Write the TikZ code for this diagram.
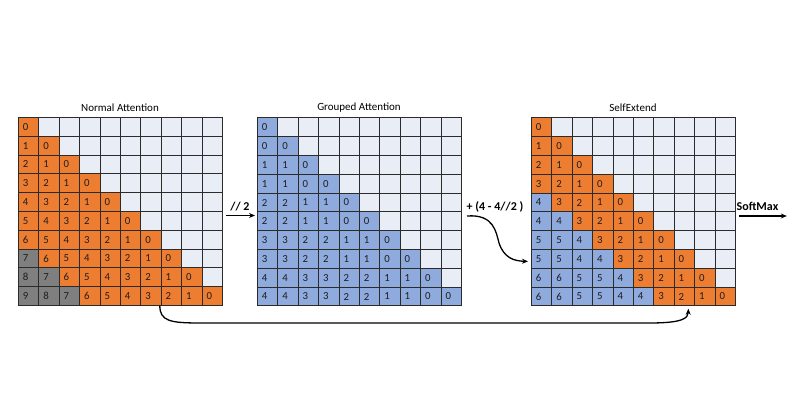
\documentclass[tikz,border=0pt]{standalone}
\usepackage{fontspec}
\setmainfont{Carlito}
\usetikzlibrary{arrows.meta}
\definecolor{orng}{HTML}{ED7D31}
\definecolor{blu}{HTML}{8FAADC}
\definecolor{emp}{HTML}{E9EDF6}
\definecolor{gry}{HTML}{7F7F7F}
\definecolor{gridc}{HTML}{2B2B2B}
\definecolor{txt}{HTML}{1E1E1E}
\tikzset{
  cell/.style={draw=gridc, line width=0.8pt, minimum height=18.8pt, text width=11.4pt,
    inner xsep=4.5pt, inner ysep=0pt, align=left, anchor=north west,
    font=\fontsize{10.8}{11}\selectfont, text=txt},
  ttl/.style={font=\fontsize{11}{12}\selectfont, text=black, inner sep=0pt},
  lab/.style={font=\bfseries\fontsize{12}{14}\selectfont, text=black, inner sep=0pt},
  arr/.style={line width=1.3pt, -{Stealth[length=6pt,width=5pt]}, draw=black},
}
\begin{document}
\begin{tikzpicture}[x=1pt,y=-1pt]
\useasboundingbox (0,0) rectangle (800,419);
\fill[white] (0,0) rectangle (800,419);
% Normal Attention
\foreach \i in {0,...,9}{
  \foreach \j in {0,...,9}{
    \pgfmathtruncatemacro\d{\i-\j}
    \ifnum\j>\i
      \node[cell,fill=emp] (N-\i-\j) at ({18+\j*20.4},{117+\i*18.8}) {};
    \else\ifnum\d>6
      \node[cell,fill=gry] (N-\i-\j) at ({18+\j*20.4},{117+\i*18.8}) {\d};
    \else
      \node[cell,fill=orng] (N-\i-\j) at ({18+\j*20.4},{117+\i*18.8}) {\d};
    \fi\fi
  }
}
% Grouped Attention
\foreach \i in {0,...,9}{
  \foreach \j in {0,...,9}{
    \pgfmathtruncatemacro\g{floor(\i/2)-floor(\j/2)}
    \ifnum\j>\i
      \node[cell,fill=emp] (G-\i-\j) at ({257+\j*20.4},{117.5+\i*18.8}) {};
    \else
      \node[cell,fill=blu] (G-\i-\j) at ({257+\j*20.4},{117.5+\i*18.8}) {\g};
    \fi
  }
}
% SelfExtend
\foreach \i in {0,...,9}{
  \foreach \j in {0,...,9}{
    \pgfmathtruncatemacro\d{\i-\j}
    \pgfmathtruncatemacro\g{floor(\i/2)-floor(\j/2)+2}
    \ifnum\j>\i
      \node[cell,fill=emp] (S-\i-\j) at ({531+\j*20.4},{117.5+\i*18.8}) {};
    \else\ifnum\d>3
      \node[cell,fill=blu] (S-\i-\j) at ({531+\j*20.4},{117.5+\i*18.8}) {\g};
    \else
      \node[cell,fill=orng] (S-\i-\j) at ({531+\j*20.4},{117.5+\i*18.8}) {\d};
    \fi\fi
  }
}
% titles
\node[ttl] (tN) at (120,108) {Normal Attention};
\node[ttl] (tG) at (359,108) {Grouped Attention};
\node[ttl] (tS) at (633,108) {SelfExtend};
% labels
\node[lab] (l2) at (240,206.5) {// 2};
\node[lab] (lp) at (495,206.5) {+ (4 - 4//2 )};
\node[lab] (lsm) at (757.5,206.5) {SoftMax};
% arrows
\coordinate (a1) at ([xshift=3pt,yshift=-4.5pt]N-5-9.north east);
\coordinate (a1e) at ([xshift=-2pt,yshift=-4pt]G-5-0.north west);
\draw[arr] (a1) -- (a1e);
\coordinate (a2) at (467,216);
\coordinate (a2e) at ([xshift=-3pt,yshift=-2.5pt]S-7-0.west);
\draw[arr] (a2) .. controls (494,214) and (496,232) .. (499,243)
  .. controls (504,258) and (514,261) .. (a2e);
\coordinate (a3) at ([xshift=3pt,yshift=-4.5pt]S-5-9.north east);
\coordinate (a3e) at ([xshift=48pt]a3);
\draw[arr] (a3) -- (a3e);
\coordinate (b1) at ([xshift=-1pt]N-9-7.south west);
\coordinate (b1e) at ([xshift=4pt,yshift=-2.5pt]S-9-7.south);
\draw[arr] (b1) .. controls (160,321) and (170,323) .. (200,323)
  -- (650,323) .. controls (683,323) and (688,318) .. (b1e);
\end{tikzpicture}
\end{document}
